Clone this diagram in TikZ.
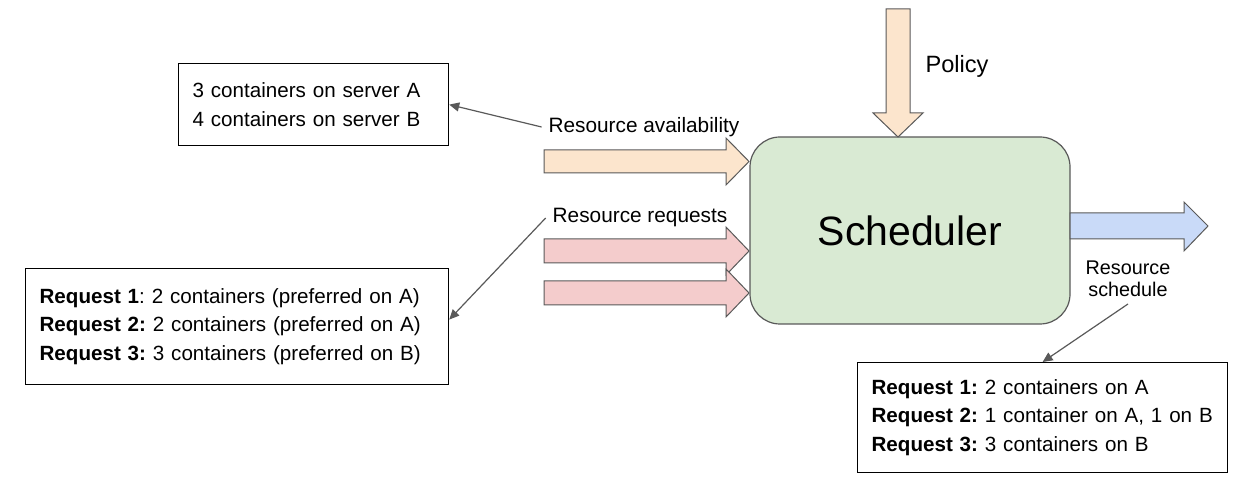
\documentclass[tikz,border=0pt]{standalone}
\usepackage{fontspec}
\setmainfont{Liberation Sans}
\usetikzlibrary{arrows.meta}
\frenchspacing

\definecolor{schedgreen}{HTML}{D9EAD3}
\definecolor{inorange}{HTML}{FCE5CD}
\definecolor{inred}{HTML}{F4CCCC}
\definecolor{outblue}{HTML}{C9DAF8}
\definecolor{edgegray}{HTML}{595959}

\begin{document}
\begin{tikzpicture}[
    % one unit = one pixel of the sketch, y grows downwards
    x=0.5pt, y=-0.5pt,
    every node/.style={
        font=\fontsize{10.4}{14.3}\selectfont
    },
    % text boxes
    infobox/.style={
        draw=black,
        line width=0.6pt,
        anchor=north west,
        align=left,
        inner xsep=7pt,
        font=\fontsize{10.3}{14.3}\selectfont
    },
    % big block arrows
    fatarrow/.style={
        draw=edgegray,
        line width=0.5pt,
        line join=miter
    },
    % thin pointers to the boxes
    pointer/.style={
        draw=edgegray,
        line width=0.6pt,
        -{Triangle[length=5pt,width=4.5pt]}
    }
]
    \useasboundingbox (0,0) rectangle (1236,480);

    % Central node
    \node[draw=edgegray, line width=0.6pt, fill=schedgreen, rounded corners=15pt,
          minimum width=160pt, minimum height=93.5pt,
          font=\fontsize{20.5}{24}\selectfont] (sched) at (910,230.5) {Scheduler};

    % Block arrows into and out of the scheduler
    \draw[fatarrow, fill=inorange] (886,9) -- (910,9) -- (910,113) -- (923,113)
        -- (898,137) -- (873,113) -- (886,113) -- cycle;
    \draw[fatarrow, fill=inorange] (544,150) -- (726,150) -- (726,138)
        -- (749,161.5) -- (726,185) -- (726,173) -- (544,173) -- cycle;
    \draw[fatarrow, fill=inred] (544,239) -- (726,239) -- (726,227)
        -- (749,251) -- (726,275) -- (726,263) -- (544,263) -- cycle;
    \draw[fatarrow, fill=inred] (544,281) -- (726,281) -- (726,269)
        -- (749,293) -- (726,317) -- (726,305) -- (544,305) -- cycle;
    \draw[fatarrow, fill=outblue] (1070,213) -- (1184,213) -- (1184,202)
        -- (1208,226) -- (1184,251) -- (1184,239) -- (1070,239) -- cycle;

    % Arrow labels
    \node[font=\fontsize{11.8}{14}\selectfont] (policy) at (957,66) {Policy};
    \node (availlbl) at (644,127) {Resource availability};
    \node (reqlbl) at (640,218) {Resource requests};
    \node[align=center, font=\fontsize{9.9}{11}\selectfont] (schedlbl) at (1128,279)
        {Resource\\schedule};

    % Boxes
    \node[infobox, text width=121pt, minimum height=41pt] (availbox) at (178,63)
        {3 containers on server A\\4 containers on server B};
    \node[infobox, text width=197.5pt, minimum height=58pt] (reqbox) at (25,268)
        {\textbf{Request 1}: 2 containers (preferred on A)\\
         \textbf{Request 2:} 2 containers (preferred on A)\\
         \textbf{Request 3:} 3 containers (preferred on B)};
    \node[infobox, text width=171pt, minimum height=55pt] (outbox) at (857,362)
        {\textbf{Request 1:} 2 containers on A\\
         \textbf{Request 2:} 1 container on A, 1 on B\\
         \textbf{Request 3:} 3 containers on B};

    % Pointers
    \draw[pointer] (availlbl.west) -- (availbox.east);
    \draw[pointer] (reqlbl.west) -- ([yshift=3.5pt]reqbox.east);
    \draw[pointer] (schedlbl.south) -- (outbox.north);
\end{tikzpicture}
\end{document}
